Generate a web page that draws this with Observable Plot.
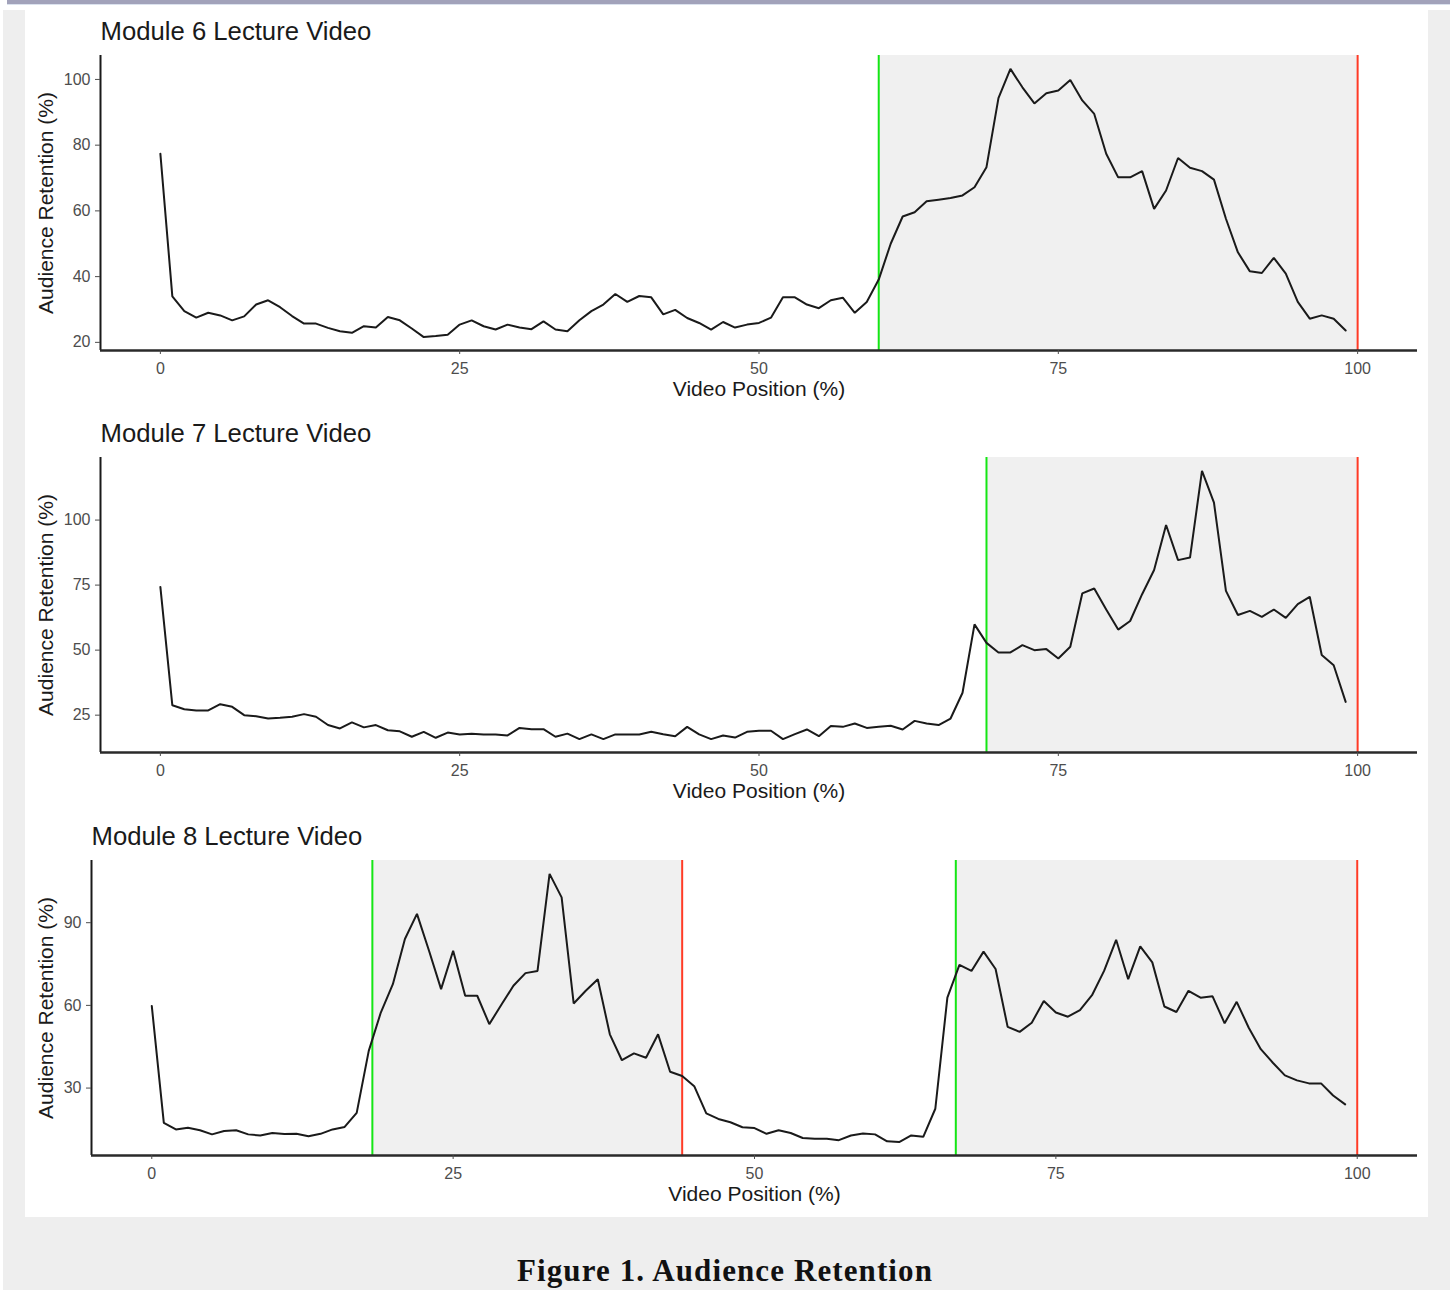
<!DOCTYPE html>
<html>
<head>
<meta charset="utf-8">
<script src="https://cdn.jsdelivr.net/npm/d3@7"></script>
<script src="https://cdn.jsdelivr.net/npm/@observablehq/plot@0.6"></script>
<style>
html, body { margin: 0; padding: 0; background: #fff; }
#page { position: relative; width: 1450px; height: 1290px; overflow: hidden; background: #fff; }
#band { position: absolute; left: 7px; top: 0; width: 1443px; height: 4px; background: #a2a2ba; border-bottom: 1px solid #dbe2ee; }
#backdrop { position: absolute; left: 3px; top: 10px; width: 1447px; height: 1280px; background: #eeeeee; }
#sheet { position: absolute; left: 25px; top: 10px; width: 1403px; height: 1207px; background: #fff; }
.panel { position: absolute; left: 25px; }
.panel svg { display: block; background: transparent; }
#caption { position: absolute; left: 0; top: 1255px; width: 1450px; text-align: center;
  font: bold 31px/31px "Liberation Serif", "DejaVu Serif", serif; letter-spacing: 1.1px; color: #111; }
</style>
</head>
<body>
<div id="page">
  <div id="band"></div>
  <div id="backdrop"></div>
  <div id="sheet"></div>
  <div class="panel" id="p6" style="top:10px"></div>
  <div class="panel" id="p7" style="top:412px"></div>
  <div class="panel" id="p8" style="top:815px"></div>
  <div id="caption">Figure 1. Audience Retention</div>
</div>
<script>
// ---- data ----
const videoPosition = Array.from({length: 100}, (_, i) => i); // 0..99 (%)
const xTicks = [0, 25, 50, 75, 100];

const module6Retention = [
  77.4, 34.0, 29.5, 27.5, 29.0, 28.2, 26.7, 27.9, 31.5, 32.8,
  30.7, 28.0, 25.7, 25.7, 24.4, 23.4, 22.9, 24.9, 24.5, 27.7,
  26.7, 24.2, 21.6, 21.9, 22.3, 25.4, 26.7, 24.9, 23.9, 25.4,
  24.5, 24.0, 26.4, 23.9, 23.4, 26.7, 29.5, 31.5, 34.7, 32.3,
  34.1, 33.7, 28.5, 29.9, 27.4, 25.9, 23.9, 26.2, 24.5, 25.4,
  25.9, 27.5, 33.7, 33.7, 31.5, 30.4, 32.8, 33.6, 29.0, 32.3,
  39.1, 50.0, 58.3, 59.6, 62.9, 63.4, 63.9, 64.7, 67.2, 73.3,
  94.3, 103.2, 97.6, 92.7, 95.8, 96.6, 99.8, 93.6, 89.5, 77.4,
  70.2, 70.2, 72.1, 60.6, 66.2, 76.1, 73.1, 72.1, 69.5, 57.6,
  47.4, 41.6, 41.1, 45.7, 40.9, 32.3, 27.2, 28.2, 27.2, 23.6
];
const module6Starts = [60];
const module6Ends = [100];
const module6Ticks = [20, 40, 60, 80, 100];

const module7Retention = [
  74.3, 28.8, 27.3, 26.8, 26.8, 29.2, 28.2, 25.0, 24.6, 23.7,
  24.0, 24.4, 25.4, 24.4, 21.2, 19.9, 22.2, 20.3, 21.2, 19.2,
  18.8, 16.7, 18.6, 16.3, 18.3, 17.6, 17.9, 17.6, 17.6, 17.2,
  20.1, 19.6, 19.6, 16.7, 17.9, 15.8, 17.6, 15.8, 17.6, 17.6,
  17.6, 18.6, 17.7, 16.9, 20.5, 17.6, 15.8, 17.2, 16.4, 18.6,
  19.0, 19.0, 15.8, 17.7, 19.5, 16.9, 20.8, 20.5, 21.8, 20.1,
  20.5, 20.9, 19.5, 22.8, 21.8, 21.2, 23.7, 33.6, 59.9, 52.8,
  49.1, 49.1, 51.9, 50.0, 50.4, 46.8, 51.3, 71.8, 73.7, 65.6,
  57.9, 61.2, 71.5, 80.8, 98.1, 84.6, 85.6, 118.9, 106.7, 72.8,
  63.5, 65.1, 62.8, 65.6, 62.4, 67.7, 70.5, 48.1, 44.2, 30.1
];
const module7Starts = [69];
const module7Ends = [100];
const module7Ticks = [25, 50, 75, 100];

const module8Retention = [
  59.8, 17.4, 15.0, 15.6, 14.7, 13.2, 14.4, 14.7, 13.2, 12.8,
  13.7, 13.3, 13.4, 12.5, 13.4, 15.0, 15.9, 21.0, 43.5, 57.4,
  67.7, 84.1, 93.2, 79.8, 65.9, 79.8, 63.5, 63.5, 53.2, 60.2,
  67.1, 71.7, 72.5, 107.7, 99.2, 60.7, 65.3, 69.5, 49.5, 40.1,
  42.6, 41.0, 49.5, 35.9, 34.4, 30.7, 20.8, 18.8, 17.6, 15.8,
  15.5, 13.4, 14.7, 13.7, 11.9, 11.6, 11.6, 11.1, 12.8, 13.5,
  13.2, 10.7, 10.4, 12.8, 12.3, 22.5, 62.8, 74.7, 72.5, 79.5,
  73.2, 52.2, 50.4, 53.7, 61.6, 57.4, 55.9, 58.3, 63.7, 72.5,
  83.8, 69.5, 81.4, 75.6, 59.6, 57.6, 65.3, 62.8, 63.3, 53.5,
  61.3, 51.9, 44.1, 39.2, 34.6, 32.8, 31.7, 31.7, 27.3, 24.1
];
const module8Starts = [18.3, 66.7];
const module8Ends = [44, 100];
const module8Ticks = [30, 60, 90];

// ---- drawing ----
const FONT = '"Liberation Sans", Arial, Helvetica, sans-serif';

function expand(ext) { // ggplot-style 5% expansion
  const pad = (ext[1] - ext[0]) * 0.05;
  return [ext[0] - pad, ext[1] + pad];
}

function panel(el, {title, values, starts, ends, yTicks, marginLeft}) {
  const data = values.map((v, i) => ({pos: videoPosition[i], ret: v}));
  const xDomain = expand(d3.extent([...videoPosition, ...starts, ...ends]));
  const yDomain = expand(d3.extent(values));
  const bands = starts.map((s, i) => ({x1: s, x2: ends[i]}));
  const chart = Plot.plot({
    width: 1403,
    height: 395,
    marginLeft,
    marginRight: 11,
    marginTop: 45,
    marginBottom: 55,
    style: {fontFamily: FONT, background: "transparent", overflow: "visible"},
    x: {domain: xDomain},
    y: {domain: yDomain},
    marks: [
      Plot.rect(bands, {x1: "x1", x2: "x2", fill: "#f0f0f0"}),
      Plot.ruleX(starts, {stroke: "#14e614", strokeWidth: 2}),
      Plot.ruleX(ends, {stroke: "#ff3b26", strokeWidth: 2}),
      Plot.line(data, {x: "pos", y: "ret", stroke: "#1a1a1a", strokeWidth: 2, strokeLinejoin: "miter"}),
      Plot.ruleX([xDomain[0]], {stroke: "#1a1a1a", strokeWidth: 2}),
      Plot.ruleY([yDomain[0]], {stroke: "#2a2a2a", strokeWidth: 2.5}),
      Plot.axisX({ticks: xTicks, tickSize: 4, tickPadding: 8, fontSize: 16, color: "#4d4d4d", label: null}),
      Plot.axisY({ticks: yTicks, tickSize: 5, tickPadding: 5, fontSize: 16, color: "#4d4d4d", label: null}),
      Plot.text(["Video Position (%)"], {text: d => d, frameAnchor: "bottom", lineAnchor: "bottom", dy: 45.5, fontSize: 21, fill: "#1a1a1a"}),
      Plot.text(["Audience Retention (%)"], {text: d => d, frameAnchor: "left", rotate: -90, textAnchor: "middle", lineAnchor: "bottom", dx: -(marginLeft + 25 - 52), fontSize: 21, fill: "#1a1a1a"}),
      Plot.text([title], {text: d => d, frameAnchor: "top-left", textAnchor: "start", lineAnchor: "bottom", dy: -15.5, fontSize: 25.7, fill: "#1a1a1a"})
    ]
  });
  el.appendChild(chart);
}

panel(document.getElementById("p6"), {title: "Module 6 Lecture Video", values: module6Retention, starts: module6Starts, ends: module6Ends, yTicks: module6Ticks, marginLeft: 75});
panel(document.getElementById("p7"), {title: "Module 7 Lecture Video", values: module7Retention, starts: module7Starts, ends: module7Ends, yTicks: module7Ticks, marginLeft: 75});
panel(document.getElementById("p8"), {title: "Module 8 Lecture Video", values: module8Retention, starts: module8Starts, ends: module8Ends, yTicks: module8Ticks, marginLeft: 66});
</script>
</body>
</html>
